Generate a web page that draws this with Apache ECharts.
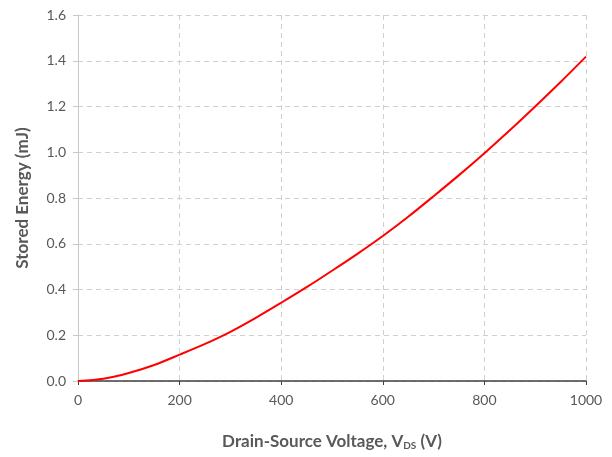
<!DOCTYPE html>
<html>
<head>
<meta charset="utf-8">
<script src="https://cdn.jsdelivr.net/npm/echarts@6/dist/echarts.min.js"></script>
<style>
html,body{margin:0;padding:0;background:#fff;}
#chart{width:612px;height:457px;}
</style>
</head>
<body>
<div id="chart"></div>
<script>
const voltage = [0, 50, 100, 150, 200, 250, 300, 350, 400, 450, 500, 550, 600, 650, 700, 750, 800, 850, 900, 950, 1000];
const energy  = [0, 0.01, 0.035, 0.07, 0.115, 0.162, 0.215, 0.276, 0.342, 0.41, 0.482, 0.556, 0.634, 0.718, 0.808, 0.9, 0.996, 1.096, 1.2, 1.307, 1.418];
const xTicks = [0, 200, 400, 600, 800, 1000];
const yTicks = [0.0, 0.2, 0.4, 0.6, 0.8, 1.0, 1.2, 1.4, 1.6];

const chart = echarts.init(document.getElementById('chart'), null, {renderer: 'canvas'});
const font = 'Lato, "Open Sans", sans-serif';
chart.setOption({
  animation: false,
  backgroundColor: '#ffffff',
  grid: {left: 78, right: 26, top: 15, bottom: 76},
  xAxis: {
    type: 'value', min: xTicks[0], max: xTicks[xTicks.length - 1], interval: 200,
    name: '{t|Drain-Source Voltage, V}{s|DS}{t| (V)}',
    nameLocation: 'middle', nameGap: 51,
    nameTextStyle: {
      rich: {
        t: {fontFamily: font, fontSize: 17, fontWeight: 'bold', color: '#595959'},
        s: {fontFamily: font, fontSize: 10, fontWeight: 'bold', color: '#595959', verticalAlign: 'bottom', padding: [9, 0, 0, 0]}
      }
    },
    axisLine: {show: true, lineStyle: {color: '#404040', width: 1.5}},
    axisTick: {show: true, length: 4, lineStyle: {color: '#404040'}},
    axisLabel: {fontFamily: font, fontSize: 14, color: '#595959', margin: 12,
      formatter: v => String(v)},
    splitLine: {show: true, lineStyle: {color: '#d0d0d0', type: [5, 4], width: 1}}
  },
  yAxis: {
    type: 'value', min: yTicks[0], max: yTicks[yTicks.length - 1], interval: 0.2,
    name: 'Stored Energy (mJ)', nameLocation: 'middle', nameGap: 47,
    nameTextStyle: {fontFamily: font, fontSize: 17, fontWeight: 'bold', color: '#595959'},
    axisLine: {show: true, lineStyle: {color: '#c8c8c8', width: 1}},
    axisTick: {show: true, length: 5, lineStyle: {color: '#c8c8c8'}},
    axisLabel: {fontFamily: font, fontSize: 14, color: '#595959', margin: 12,
      formatter: v => v.toFixed(1)},
    splitLine: {show: true, lineStyle: {color: '#d0d0d0', type: [5, 4], width: 1}}
  },
  series: [{
    type: 'line',
    data: voltage.map((v, i) => [v, energy[i]]),
    smooth: 0.3,
    showSymbol: false,
    lineStyle: {color: '#ff0000', width: 2},
    z: 5
  }]
});
</script>
</body>
</html>
